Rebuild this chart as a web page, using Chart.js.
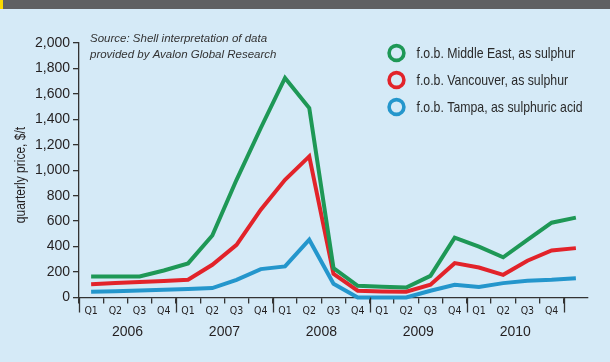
<!DOCTYPE html>
<html>
<head>
<meta charset="utf-8">
<script src="https://cdn.jsdelivr.net/npm/chart.js@4/dist/chart.umd.min.js"></script>
<style>
  html, body { margin: 0; padding: 0; }
  body { width: 610px; height: 362px; background: rgb(213,234,247); position: relative; overflow: hidden; }
  #band { position: absolute; left: 0; top: 0; width: 610px; height: 9px; background: rgb(95,96,98); }
  #flag { position: absolute; left: 0; top: 0; width: 3px; height: 9px; background: rgb(250,218,0); }
  #wrap { position: absolute; left: 0; top: 0; width: 610px; height: 362px; }
</style>
</head>
<body>
<div id="band"></div><div id="flag"></div>
<div id="wrap"><canvas id="c"></canvas></div>
<script>
// Quarterly sulphur / sulphuric acid prices, Q1 2006 – Q1 2011 ($/t)
const quarters = ['Q1','Q2','Q3','Q4','Q1','Q2','Q3','Q4','Q1','Q2','Q3','Q4',
                  'Q1','Q2','Q3','Q4','Q1','Q2','Q3','Q4',''];
const years = ['2006','2007','2008','2009','2010'];

const middleEast = [165, 165, 165, 212, 268, 487, 925, 1332, 1725, 1489,
                    231, 92, 85, 78, 170, 470, 400, 316, 452, 588, 628];
const vancouver  = [105, 113, 122, 130, 139, 257, 414, 690, 925, 1109,
                    186, 53, 47, 45, 100, 270, 236, 178, 289, 370, 388];
const tampa      = [45, 50, 55, 60, 66, 74, 139, 223, 244, 454,
                    108, 0, 0, 0, 53, 100, 82, 113, 131, 139, 152];

const seriesNames = ['f.o.b. Middle East, as sulphur',
                     'f.o.b. Vancouver, as sulphur',
                     'f.o.b. Tampa, as sulphuric acid'];
const seriesColors = ['rgb(30,152,86)', 'rgb(226,35,42)', 'rgb(36,150,204)'];

const sourceLines = ['Source: Shell interpretation of data',
                     'provided by Avalon Global Research'];
const yTitle = 'quarterly price, $/t';

const AXIS = '#333333';
const TEXT = '#231f20';
const SANS = '"Liberation Sans", Arial, sans-serif';
const COND = '"DejaVu Sans Condensed", "Liberation Sans", sans-serif';

// condensed text: regular face squeezed horizontally
function narrowText(ctx, text, x, y, size, squeeze, align) {
  ctx.save();
  ctx.translate(x, y);
  ctx.scale(squeeze, 1);
  ctx.font = size + 'px ' + SANS;
  ctx.textAlign = align;
  ctx.textBaseline = 'middle';
  ctx.fillText(text, 0, 0);
  ctx.restore();
}

// Year ticks, year labels, axis title, source note and ring legend
const extras = {
  id: 'extras',
  afterDraw(chart) {
    const ctx = chart.ctx;
    const xs = chart.scales.x;
    const area = chart.chartArea;
    const half = (xs.getPixelForTick(1) - xs.getPixelForTick(0)) / 2;
    ctx.save();

    // long ticks at year boundaries
    ctx.strokeStyle = AXIS;
    ctx.lineWidth = 1.3;
    for (let i = 0; i <= years.length * 4; i += 4) {
      const x = Math.round(xs.getPixelForTick(i) - half) + 0.5;
      ctx.beginPath();
      ctx.moveTo(x, area.bottom);
      ctx.lineTo(x, area.bottom + 15);
      ctx.stroke();
    }

    // year labels centred under their four quarters
    ctx.fillStyle = TEXT;
    ctx.font = '14px ' + SANS;
    ctx.textAlign = 'center';
    ctx.textBaseline = 'middle';
    years.forEach((y, k) => {
      const x = (xs.getPixelForTick(4 * k + 1) + xs.getPixelForTick(4 * k + 2)) / 2;
      ctx.fillText(y, x, 332);
    });

    // vertical axis title
    ctx.save();
    ctx.translate(21, 175);
    ctx.rotate(-Math.PI / 2);
    narrowText(ctx, yTitle, 0, 0, 14.5, 0.83, 'center');
    ctx.restore();

    // source note
    ctx.font = 'italic 11.5px ' + SANS;
    ctx.textAlign = 'left';
    ctx.fillStyle = '#333333';
    ctx.fillText(sourceLines[0], 90, 39);
    ctx.fillText(sourceLines[1], 90, 55);

    // legend with ring markers
    const rows = [53, 80, 107];
    chart.data.datasets.forEach((ds, i) => {
      ctx.beginPath();
      ctx.strokeStyle = ds.borderColor;
      ctx.lineWidth = 3.6;
      ctx.arc(396.5, rows[i], 7.4, 0, Math.PI * 2);
      ctx.stroke();
      ctx.fillStyle = '#2a2a2a';
      narrowText(ctx, ds.label, 416.5, rows[i] + 0.5, 15, 0.82, 'left');
    });
    ctx.restore();
  }
};

const lineStyle = { borderWidth: 4, pointRadius: 0, pointHoverRadius: 0, tension: 0,
                    fill: false, borderJoinStyle: 'miter', borderCapStyle: 'butt', clip: false };

new Chart(document.getElementById('c'), {
  type: 'line',
  data: {
    labels: quarters,
    datasets: [
      Object.assign({ label: seriesNames[0], data: middleEast, borderColor: seriesColors[0], backgroundColor: seriesColors[0] }, lineStyle),
      Object.assign({ label: seriesNames[1], data: vancouver,  borderColor: seriesColors[1], backgroundColor: seriesColors[1] }, lineStyle),
      Object.assign({ label: seriesNames[2], data: tampa,      borderColor: seriesColors[2], backgroundColor: seriesColors[2] }, lineStyle)
    ]
  },
  options: {
    responsive: true,
    maintainAspectRatio: false,
    animation: false,
    devicePixelRatio: 1,
    layout: { padding: { top: 43, right: 22, bottom: 0, left: 0 } },
    plugins: { legend: { display: false }, tooltip: { enabled: false } },
    scales: {
      x: {
        offset: true,
        grid: {
          offset: true,
          drawOnChartArea: false,
          drawTicks: true,
          tickLength: 6,
          lineWidth: 1.3,
          color: (c) => (c.tick ? AXIS : 'rgba(0,0,0,0)')
        },
        border: { display: true, color: AXIS, width: 1.3 },
        ticks: {
          autoSkip: false,
          maxRotation: 0,
          padding: 1,
          color: TEXT,
          font: { family: COND, size: 10.5 }
        },
        afterFit(scale) { scale.height = 64.5; }
      },
      y: {
        min: 0,
        max: 2000,
        grid: {
          drawOnChartArea: false,
          drawTicks: true,
          tickLength: 6,
          lineWidth: 1.3,
          color: AXIS
        },
        border: { display: true, color: AXIS, width: 1.3 },
        ticks: {
          stepSize: 200,
          padding: 3,
          color: TEXT,
          font: { family: SANS, size: 14 },
          callback: (v) => Number(v).toLocaleString('en-US')
        },
        afterFit(scale) { scale.width = 79; }
      }
    }
  },
  plugins: [extras]
});
</script>
</body>
</html>
